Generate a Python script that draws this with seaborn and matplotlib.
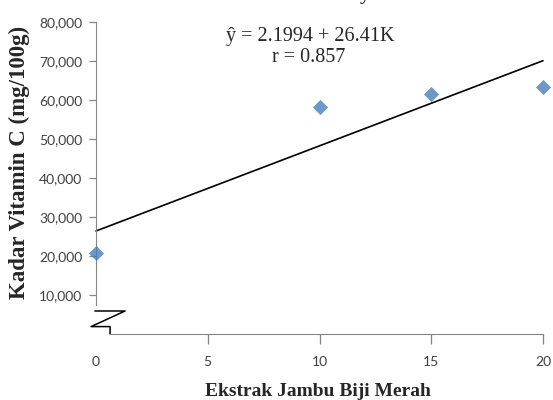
import numpy as np
import pandas as pd
import seaborn as sns
import matplotlib
matplotlib.use("Agg")
import matplotlib.pyplot as plt
from matplotlib.lines import Line2D
import warnings
warnings.filterwarnings("ignore")

# data (y in "thousands", shown as 10,000 etc.)
ekstrak = [0, 10, 15, 20]
vitamin_c = [20.8, 58.3, 61.5, 63.3]
x_ticks = [0, 5, 10, 15, 20]
y_ticks = [10, 20, 30, 40, 50, 60, 70, 80]
y_tick_labels = ["10,000", "20,000", "30,000", "40,000", "50,000", "60,000", "70,000", "80,000"]

df = pd.DataFrame({"ekstrak": ekstrak, "vitamin_c": vitamin_c})

sns.set_style("white")
plt.rcParams["font.family"] = ["Lato", "DejaVu Sans"]

fig = plt.figure(figsize=(5.53, 4.0), dpi=100)
ax = fig.add_axes([96 / 553, 1 - 334 / 400, 447 / 553, 312 / 400])

sns.regplot(data=df, x="ekstrak", y="vitamin_c", ci=None, marker="D", ax=ax,
            scatter_kws={"color": "#4a7ebb", "s": 60, "clip_on": False, "zorder": 3, "linewidths": 0},
            line_kws={"color": "black", "lw": 1.2, "clip_on": False})

ax.set_xlim(0, 20)
ax.set_ylim(0, 80)
ax.set_xticks(x_ticks)
ax.set_xticklabels([str(v) for v in x_ticks])
ax.set_yticks(y_ticks)
ax.set_yticklabels(y_tick_labels)
ax.set_xlabel("")
ax.set_ylabel("")

gray = "#868686"
for side in ["top", "right"]:
    ax.spines[side].set_visible(False)
ax.spines["left"].set_color(gray)
ax.spines["bottom"].set_color(gray)
ax.spines["left"].set_bounds(7.4, 80)
ax.spines["bottom"].set_bounds(0.63, 20)
ax.tick_params(axis="both", colors=gray, labelcolor="#404040", labelsize=10,
               length=5, width=0.9, direction="out", left=True, bottom=True)
ax.tick_params(axis="y", pad=5)
ax.tick_params(axis="x", pad=9, length=7)
ax.xaxis.get_major_ticks()[0].tick1line.set_visible(False)

# axis break mark
brk_x = [0.63, 0.63, -0.22, 1.3, -0.05]
brk_y = [0.0, 1.9, 1.9, 5.9, 5.9]
ax.add_line(Line2D(brk_x, brk_y, color="black", lw=1.1, clip_on=False))

ax.text(0.48, 0.955, "\u0177 = 2.1994 + 26.41K", transform=ax.transAxes, ha="center", va="center",
        family="Liberation Serif", fontsize=14.5)
ax.text(0.475, 0.885, "r = 0.857", transform=ax.transAxes, ha="center", va="center",
        family="Liberation Serif", fontsize=14.5)

fig.text(19 / 553, 1 - 162 / 400, "Kadar Vitamin C (mg/100g)", rotation=90, ha="center", va="center",
         family="Liberation Serif", fontweight="bold", fontsize=16.5)
fig.text(318 / 553, 1 - 391 / 400, "Ekstrak Jambu Biji Merah", ha="center", va="center",
         family="Liberation Serif", fontweight="bold", fontsize=14)

# bottom of the cut-off title
fig.text(365 / 553, 1.0, "y", ha="center", va="baseline",
         family="Liberation Serif", fontweight="bold", fontsize=14)

plt.savefig("out.png", dpi=100)
